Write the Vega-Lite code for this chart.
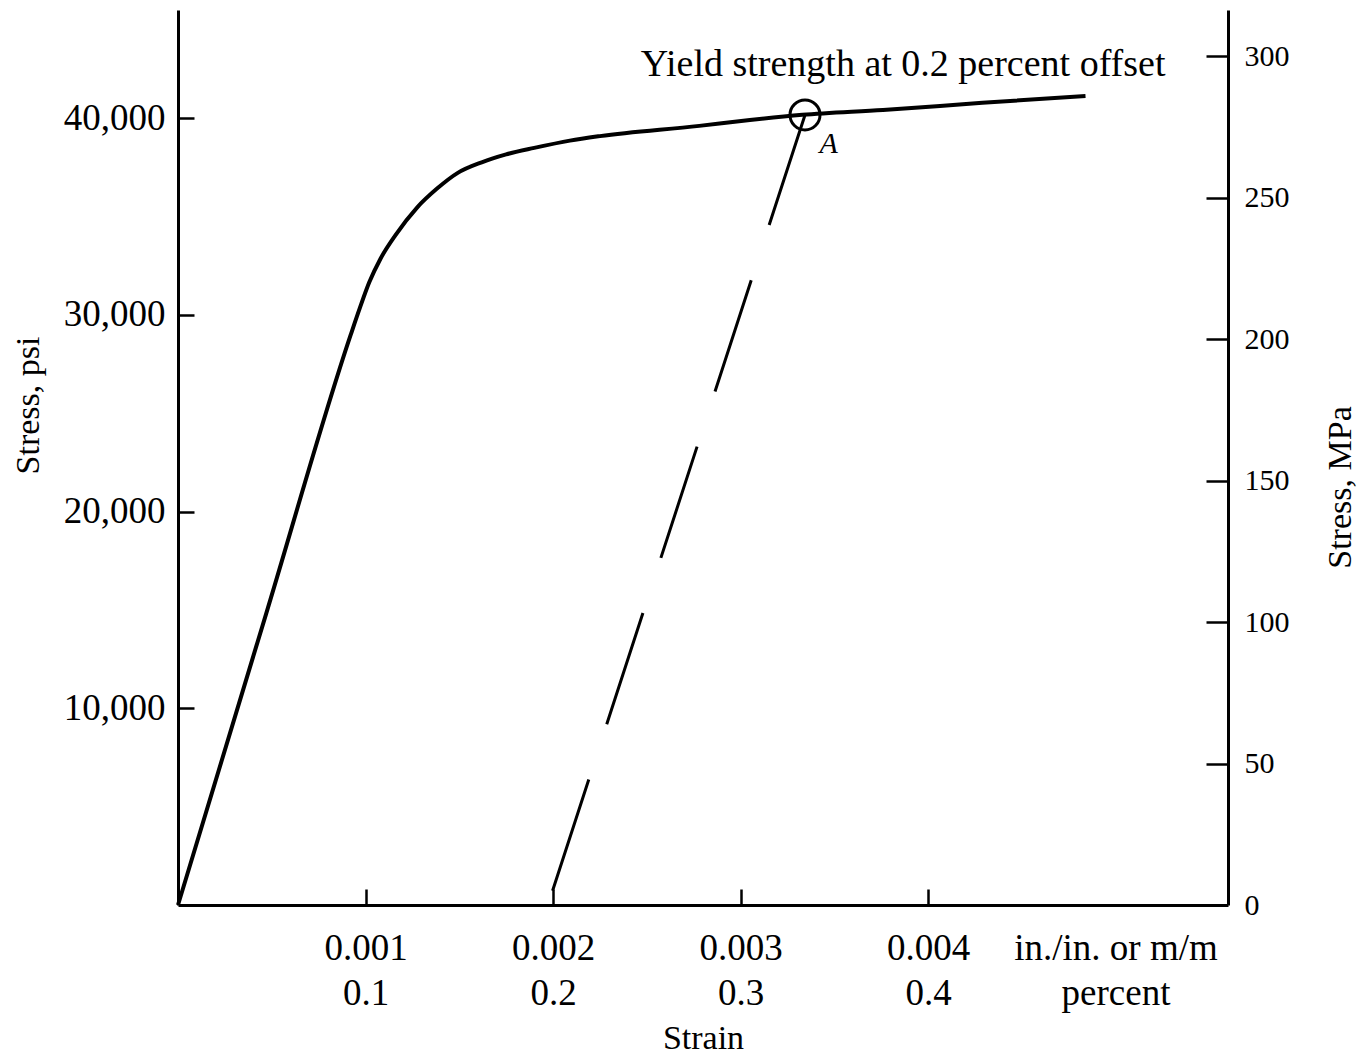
{
  "$schema": "https://vega.github.io/schema/vega-lite/v6.json",
  "width": 1050,
  "height": 895,
  "autosize": {"type": "none"},
  "padding": {"left": 178, "top": 10, "right": 137, "bottom": 149},
  "background": "white",
  "config": {
    "view": {"stroke": null},
    "font": "Liberation Serif",
    "axis": {
      "domainColor": "black", "domainWidth": 3, "tickColor": "black", "tickWidth": 2.5,
      "labelColor": "black", "titleColor": "black", "labelFont": "Liberation Serif",
      "titleFont": "Liberation Serif", "labelFontSize": 37, "titleFontSize": 34,
      "titleFontWeight": "normal", "grid": false, "labelLimit": 0
    }
  },
  "datasets": {
    "curve": [
      {"strain": 0, "psi": 0},
      {"strain": 0.00047, "psi": 14800},
      {"strain": 0.00092, "psi": 28950},
      {"strain": 0.00097, "psi": 30350},
      {"strain": 0.00102, "psi": 31650},
      {"strain": 0.00108, "psi": 32850},
      {"strain": 0.00116, "psi": 34050},
      {"strain": 0.001275, "psi": 35450},
      {"strain": 0.00138, "psi": 36400},
      {"strain": 0.00149, "psi": 37200},
      {"strain": 0.00162, "psi": 37750},
      {"strain": 0.00175, "psi": 38150},
      {"strain": 0.0019, "psi": 38480},
      {"strain": 0.00209, "psi": 38850},
      {"strain": 0.00225, "psi": 39080},
      {"strain": 0.00278, "psi": 39600},
      {"strain": 0.00305, "psi": 39900},
      {"strain": 0.00333, "psi": 40160},
      {"strain": 0.00376, "psi": 40410},
      {"strain": 0.00429, "psi": 40770},
      {"strain": 0.00484, "psi": 41120}
    ],
    "offset": [
      {"strain": 0.001973, "psi": 0},
      {"strain": 0.003344, "psi": 40156}
    ],
    "yieldpt": [
      {"strain": 0.003344, "psi": 40156}
    ],
    "notes": [
      {"strain": 0.003867, "psi": 42700, "text": "Yield strength at 0.2 percent offset"}
    ],
    "pointlabel": [
      {"strain": 0.00347, "psi": 38700, "text": "A"}
    ],
    "mpa": [
      {"mpa": 0},
      {"mpa": 300}
    ]
  },
  "layer": [
    {
      "encoding": {
        "x": {
          "field": "strain", "type": "quantitative",
          "scale": {"domain": [0, 0.0056], "nice": false, "zero": false},
          "axis": {
            "values": [0.001, 0.002, 0.003, 0.004, 0.005],
            "tickSize": -16,
            "labelPadding": 41,
            "labelLineHeight": 45,
            "labelExpr": "datum.value > 0.0045 ? ['in./in. or m/m', 'percent'] : [format(datum.value, '.3f'), format(datum.value * 100, '.1f')]",
            "tickOpacity": {"condition": {"test": "datum.value > 0.0045", "value": 0}, "value": 1},
            "title": "Strain",
            "titlePadding": 10
          }
        },
        "y": {
          "field": "psi", "type": "quantitative",
          "scale": {"domain": [0, 45490], "nice": false},
          "axis": {
            "values": [10000, 20000, 30000, 40000],
            "labelExpr": "format(datum.value, ',')",
            "tickSize": -16,
            "labelPadding": 29,
            "labelBaseline": "middle",
            "title": "Stress, psi",
            "titleX": -150,
            "titleY": 395,
            "titleBaseline": "middle"
          }
        }
      },
      "layer": [
        {
          "data": {"name": "curve"},
          "mark": {"type": "line", "color": "black", "strokeWidth": 4, "interpolate": "monotone"}
        },
        {
          "data": {"name": "offset"},
          "mark": {"type": "line", "color": "black", "strokeWidth": 3, "strokeDash": [117, 58], "strokeDashOffset": -15}
        },
        {
          "data": {"name": "yieldpt"},
          "mark": {"type": "point", "shape": "circle", "filled": false, "color": "black", "strokeWidth": 3, "size": 900, "opacity": 1}
        },
        {
          "data": {"name": "notes"},
          "mark": {"type": "text", "color": "black", "fontSize": 38, "font": "Liberation Serif", "align": "center", "baseline": "middle"},
          "encoding": {"text": {"field": "text", "type": "nominal"}}
        },
        {
          "data": {"name": "pointlabel"},
          "mark": {"type": "text", "color": "black", "fontSize": 30, "font": "Liberation Serif", "fontStyle": "italic", "align": "center", "baseline": "middle"},
          "encoding": {"text": {"field": "text", "type": "nominal"}}
        }
      ]
    },
    {
      "data": {"name": "mpa"},
      "mark": {"type": "point", "opacity": 0},
      "encoding": {
        "y": {
          "field": "mpa", "type": "quantitative",
          "scale": {"domain": [0, 316.3], "nice": false},
          "axis": {
            "orient": "right",
            "values": [0, 50, 100, 150, 200, 250, 300],
            "tickSize": -22,
            "labelPadding": 38,
            "labelFontSize": 30,
            "labelBaseline": "middle",
            "tickOpacity": {"condition": {"test": "datum.value == 0", "value": 0}, "value": 1},
            "title": "Stress, MPa",
            "titleAngle": 270,
            "titleX": 112,
            "titleY": 477,
            "titleBaseline": "middle"
          }
        }
      }
    }
  ],
  "resolve": {"scale": {"y": "independent"}}
}
